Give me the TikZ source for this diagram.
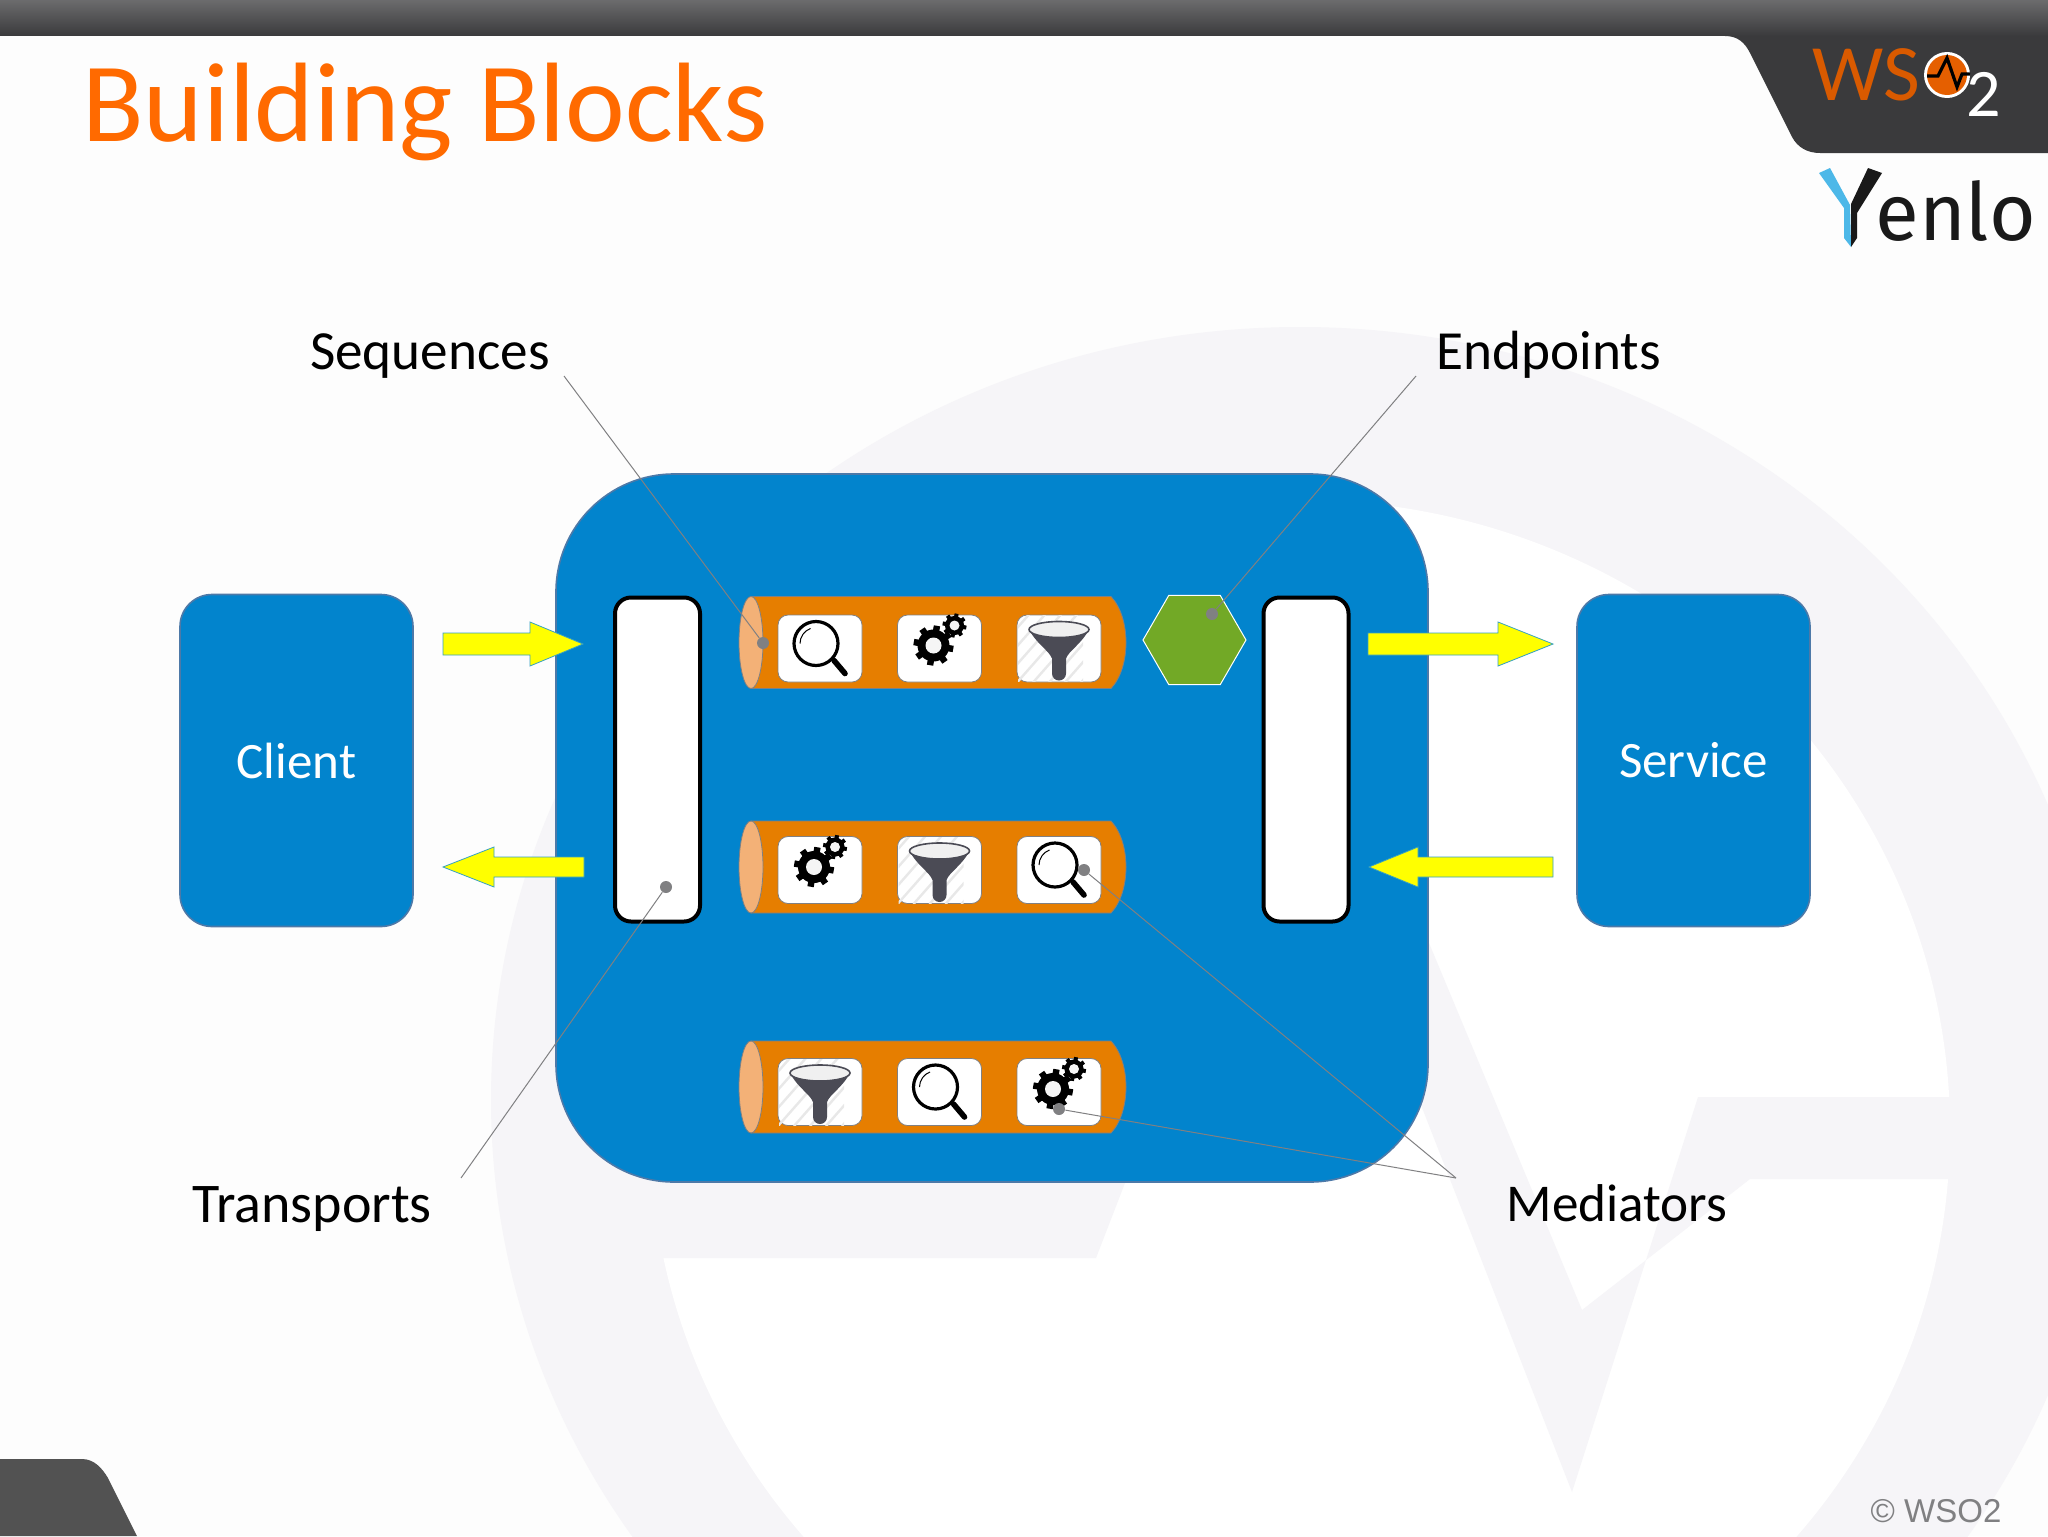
\documentclass[tikz,border=0pt]{standalone}
\usepackage{fontspec}
\setmainfont{Carlito}
\newfontfamily\logofont{Fira Sans}
\newfontfamily\copyfont{Liberation Sans}

\definecolor{wmgray}{HTML}{F6F5F8}
\definecolor{pagewhite}{HTML}{FDFDFD}
\definecolor{boxblue}{HTML}{0284CD}
\definecolor{boxedge}{HTML}{4D79A8}
\definecolor{pipeorange}{HTML}{E67E00}
\definecolor{pipeend}{HTML}{F3B177}
\definecolor{hexgreen}{HTML}{72A926}
\definecolor{arrowyellow}{HTML}{FFFF00}
\definecolor{leadgray}{HTML}{808082}
\definecolor{platedark}{HTML}{3A3A3C}
\definecolor{titleorange}{HTML}{FF6A00}
\definecolor{funnelgray}{HTML}{4B4B55}
\definecolor{yenloblue}{HTML}{4DB8E8}

\usetikzlibrary{shapes.geometric}

\tikzset{
	bluebox/.style={draw=boxedge, fill=boxblue, line width=0.8pt, rounded corners=16pt,
		minimum width=116.5pt, minimum height=166pt, text=white, font=\fontsize{25.5}{30}\selectfont},
	transport/.style={draw=black, fill=white, line width=2pt, rounded corners=8pt,
		minimum width=42.5pt, minimum height=162pt},
	tile/.style={draw=leadgray, fill=white, line width=0.4pt, rounded corners=5pt,
		minimum width=42pt, minimum height=33.5pt, inner sep=0pt},
	label/.style={font=\fontsize{27.6}{34}\selectfont, inner sep=0pt},
	leader/.style={draw=leadgray, line width=0.5pt},
	dot/.style={circle, fill=leadgray, minimum size=6pt, inner sep=0pt},
}

\newcommand{\iconlens}[2]{
	\draw[line width=1.6pt] (#1-4,#2-5) circle[radius=22];
	\draw[line width=0.5pt] (#1-20,#2-5) arc[start angle=180, end angle=250, radius=16];
	\draw[line width=2.8pt, line cap=round] (#1+14,#2+12) -- (#1+25,#2+25);
}
\newcommand{\onegear}[5]{
	\foreach \a in {0,45,...,315}
		\draw[line width=#5] (#1,#2) -- +(\a+10:#3);
	\fill (#1,#2) circle[radius=0.8*#3];
	\fill[white!96!black] (#1,#2) circle[radius=#4];
}
\newcommand{\icongears}[2]{
	\onegear{#1-6}{#2-3}{20}{8}{3.2pt}
	\onegear{#1+15}{#2-23}{12}{5}{2pt}
}
\newcommand{\iconfunnel}[2]{
	\begin{scope}
		\clip (#1-41,#2-33) rectangle (#1+24,#2+33);
		\foreach \d in {-60,-44,...,60}
			\draw[gray!18, line width=1.2pt] (#1+\d-30,#2+34) -- (#1+\d+30,#2-34);
	\end{scope}
	\fill[funnelgray] (#1-30,#2-19) .. controls (#1-22,#2-4) and (#1-10,#2+2) .. (#1-7,#2+10)
		-- (#1-7,#2+25) arc[start angle=180, end angle=0, radius=7]
		-- (#1+7,#2+10) .. controls (#1+10,#2+2) and (#1+22,#2-4) .. (#1+30,#2-19) -- cycle;
	\draw[funnelgray, fill=gray!12, line width=0.8pt] (#1,#2-19) ellipse[x radius=30, y radius=8];
}

\begin{document}
\begin{tikzpicture}[x=0.5pt,y=-0.5pt]
\useasboundingbox (0,0) rectangle (2048,1536);

%% watermark %%
\begin{scope}
	\clip (0,0) rectangle (2048,1536);
	\fill[pagewhite] (0,0) rectangle (2048,1536);
	\fill[wmgray] (1300,1100) ellipse[x radius=809, y radius=773];
	\fill[white] (1300,1130) ellipse[x radius=650, y radius=630];
	\fill[wmgray] (640,1100) -- (640,1258) -- (1096,1258) -- (1130,1170) -- (1130,1100) -- cycle;
	\fill[wmgray] (1380,1000) -- (1572,1492) -- (1698,1097) -- (1960,1097) -- (1960,1179)
		-- (1750,1179) -- (1582,1310) -- (1429,943) -- cycle;
\end{scope}

%% frame %%
\fill[platedark] (1700,0) -- (1700,36) -- (1725,36) .. controls (1738,36) and (1745,43) .. (1750,53)
	-- (1792,137) .. controls (1798,148) and (1808,153) .. (1820,153) -- (2048,153) -- (2048,0) -- cycle;
\shade[top color=platedark!75!white, bottom color=platedark] (0,0) rectangle (2048,36);
\fill[black!68!white] (0,1459) -- (82,1459) .. controls (94,1459) and (102,1468) .. (108,1478)
	-- (137,1536) -- (0,1536) -- cycle;
\node[anchor=base west, inner sep=0pt, text=titleorange, font=\fontsize{56.5}{68}\selectfont]
	(title) at (82,141) {Building Blocks};
\node[anchor=mid, inner sep=0pt, text=leadgray, font=\copyfont\fontsize{16.5}{20}\selectfont]
	(copyright) at (1936,1518) {© WSO2};

%% logos %%
\node[anchor=base west, inner sep=0pt, text=titleorange!85!black, font=\fontsize{40}{50}\selectfont]
	(wsname) at (1812,100) {WS};
\fill[white] (1947,75) circle[radius=23];
\fill[titleorange!90!black] (1947,75) circle[radius=20];
\draw[black, line width=1.6pt] (1927,76) -- (1938,76) -- (1947,58) -- (1957,87) -- (1962,74) -- (1970,74);
\node[anchor=base west, inner sep=0pt, text=white, font=\fontsize{34}{40}\selectfont]
	(wssub) at (1966,117) {2};
\fill[yenloblue] (1819,173) -- (1830,168) -- (1850,205) -- (1851,247) -- (1844,238) -- (1844,208) -- cycle;
\fill[black!90] (1868,168) -- (1882,173) -- (1857,213) -- (1857,238) -- (1851,247) -- (1851,204) -- cycle;
\node[anchor=base west, inner sep=0pt, text=black!90, font=\logofont\fontsize{40}{50}\selectfont]
	(enlo) at (1875,240) {enlo};

%% main blocks %%
\node[bluebox] (client) at (296.5,760.5) {\raisebox{-1.2pt}{Client}};
\node[bluebox] (service) at (1693.5,760.5) {\raisebox{-1.2pt}{Service}};
\node[bluebox, minimum width=436pt, minimum height=354pt, rounded corners=59pt] (esb) at (992,828) {};
\node[transport] (inlet) at (657.5,759.5) {};
\node[transport] (outlet) at (1306,759.5) {};
\node[regular polygon, regular polygon sides=6, draw=white, fill=hexgreen, line width=0.5pt,
	minimum size=51.5pt, inner sep=0pt] (endpoint) at (1194.5,640) {};

%% pipes %%
\foreach \row/\y/\ty/\p/\q/\r in {1/642.5/648.5/lens/gears/funnel,2/867/870/gears/funnel/lens,3/1087/1092/funnel/lens/gears}
{
	\draw[draw=leadgray, fill=pipeorange, line width=0.4pt]
		(751,\y-46) -- (1111,\y-46) .. controls (1131,\y-25) and (1131,\y+25) .. (1111,\y+46) -- (751,\y+46) -- cycle;
	\draw[draw=leadgray, fill=pipeend, line width=0.4pt] (751,\y) ellipse[x radius=12, y radius=46];
	\node[tile] (tile\row a) at (820,\ty) {};
	\node[tile] (tile\row b) at (939.5,\ty) {};
	\node[tile] (tile\row c) at (1059,\ty) {};
	\csname icon\p\endcsname{820}{\ty}
	\csname icon\q\endcsname{939.5}{\ty}
	\csname icon\r\endcsname{1059}{\ty}
}

%% arrows %%
\foreach \tail/\base/\tip/\y/\sh/\hd in {443/530/583/644/11/22,584/494/443/867/10/20,1368/1498/1553/644/11/22,1553/1418/1369/867/10/20}
	\draw[draw=boxedge!70!cyan, fill=arrowyellow, line width=0.4pt]
		(\tail,\y-\sh) -- (\base,\y-\sh) -- (\base,\y-\hd) -- (\tip,\y)
		-- (\base,\y+\hd) -- (\base,\y+\sh) -- (\tail,\y+\sh) -- cycle;

%% labels and leaders %%
\node[label] (sequences) at (430,356) {Sequences};
\node[label] (endpoints) at (1549,355) {Endpoints};
\node[label, font=\fontsize{28}{34}\selectfont] (transports) at (312,1209) {Transports};
\node[label, font=\fontsize{26.6}{34}\selectfont] (mediators) at (1617,1203) {Mediators};

\coordinate (seqend) at (564,376);
\coordinate (endend) at (1416,376);
\coordinate (trsend) at (461,1178);
\coordinate (medend) at (1456,1178);

\node[dot] (seqdot) at (763,643) {};
\node[dot] (enddot) at (1212,614) {};
\node[dot] (trsdot) at (666,887) {};
\node[dot] (meddot1) at (1084,870) {};
\node[dot] (meddot2) at (1059,1109) {};

\draw[leader] (seqend) -- (seqdot);
\draw[leader] (endend) -- (enddot);
\draw[leader] (trsend) -- (trsdot);
\draw[leader] (medend) -- (meddot1);
\draw[leader] (medend) -- (meddot2);
\end{tikzpicture}
\end{document}
